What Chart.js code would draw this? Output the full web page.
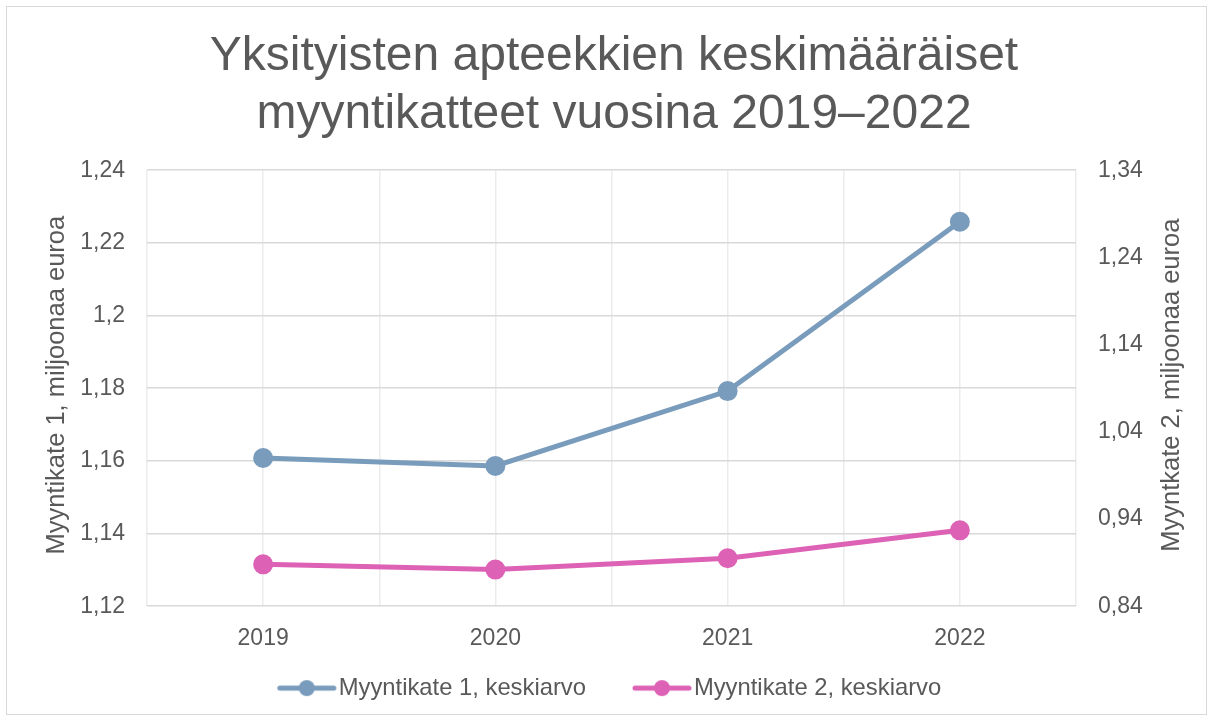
<!DOCTYPE html>
<html lang="fi">
<head>
<meta charset="UTF-8">
<title>Myyntikatteet 2019–2022</title>
<script src="https://cdn.jsdelivr.net/npm/chart.js"></script>
<style>
  html, body { margin: 0; padding: 0; background: #fff; }
  #wrap { position: relative; width: 1213px; height: 720px; }
  #frame { position: absolute; left: 6px; top: 6px; width: 1199px; height: 707px; border: 1px solid #d9d9d9; pointer-events: none; }
</style>
</head>
<body>
<div id="wrap">
  <canvas id="chart" width="1213" height="720"></canvas>
  <div id="frame"></div>
</div>
<script>
// data
const years = [2019, 2020, 2021, 2022];
const margin1 = [1.1608, 1.1586, 1.1792, 1.2258];
const margin2 = [0.888, 0.882, 0.895, 0.927];
const seriesNames = ['Myyntikate 1, keskiarvo', 'Myyntikate 2, keskiarvo'];
const leftAxis = { min: 1.12, max: 1.24, step: 0.02 };
const rightAxis = { min: 0.84, max: 1.34, step: 0.1 };
const titleLines = ['Yksityisten apteekkien keskimääräiset', 'myyntikatteet vuosina 2019–2022'];
const leftTitle = 'Myyntikate 1, miljoonaa euroa';
const rightTitle = 'Myyntkate 2, miljoonaa euroa';

const BLUE = '#7a9cbc';
const PINK = '#dd62b5';
const TEXT = '#595959';
const FONT = '"Liberation Sans", Arial, sans-serif';

// comma decimals like the original
const fmt = v => String(Math.round(v * 100) / 100).replace('.', ',');

// legend marker: line with a dot
function legendIcon(color) {
  const c = document.createElement('canvas');
  c.width = 62; c.height = 18;
  const g = c.getContext('2d');
  g.strokeStyle = color; g.lineWidth = 5; g.lineCap = 'round';
  g.beginPath(); g.moveTo(4, 9); g.lineTo(58, 9); g.stroke();
  g.fillStyle = color;
  g.beginPath(); g.arc(31, 9, 8, 0, Math.PI * 2); g.fill();
  return c;
}
const icons = [legendIcon(BLUE), legendIcon(PINK)];

// axis titles read bottom-to-top on both sides
const axisTitles = {
  id: 'axisTitles',
  afterDraw(chart) {
    const { ctx, chartArea } = chart;
    const y = (chartArea.top + chartArea.bottom) / 2 - 3;
    ctx.save();
    ctx.fillStyle = TEXT;
    ctx.font = '25.5px ' + FONT;
    ctx.textAlign = 'center';
    ctx.textBaseline = 'middle';
    [[57, leftTitle], [1172, rightTitle]].forEach(([x, t]) => {
      ctx.save();
      ctx.translate(x, y);
      ctx.rotate(-Math.PI / 2);
      ctx.fillText(t, 0, 0);
      ctx.restore();
    });
    ctx.restore();
  }
};

const tickFont = { family: FONT, size: 23 };

new Chart(document.getElementById('chart'), {
  type: 'line',
  data: {
    datasets: [
      {
        label: seriesNames[0],
        data: years.map((y, i) => ({ x: y, y: margin1[i] })),
        yAxisID: 'y',
        borderColor: BLUE, backgroundColor: BLUE,
        borderWidth: 5, pointRadius: 7.5, pointHoverRadius: 7.5
      },
      {
        label: seriesNames[1],
        data: years.map((y, i) => ({ x: y, y: margin2[i] })),
        yAxisID: 'y2',
        borderColor: PINK, backgroundColor: PINK,
        borderWidth: 5, pointRadius: 7.5, pointHoverRadius: 7.5
      }
    ]
  },
  options: {
    responsive: false,
    animation: false,
    layout: { padding: { top: 0, bottom: 10, left: 15, right: 0 } },
    scales: {
      x: {
        type: 'linear',
        min: years[0] - 0.5,
        max: years[years.length - 1] + 0.5,
        ticks: {
          stepSize: 0.5,
          color: TEXT,
          font: tickFont,
          // mirrored with negative padding so the labels sit below the axis
          // without being clipped to the (short) scale box
          mirror: true,
          padding: -46,
          maxRotation: 0,
          autoSkip: false,
          callback: v => Number.isInteger(v) ? String(v) : ''
        },
        grid: { color: '#ececec', lineWidth: 1.5, drawTicks: false },
        border: { display: false },
        afterFit: s => { s.height = 14; }
      },
      y: {
        position: 'left',
        min: leftAxis.min, max: leftAxis.max,
        ticks: { stepSize: leftAxis.step, color: TEXT, font: tickFont, padding: 22, callback: fmt },
        grid: { color: '#d9d9d9', lineWidth: 1.5, drawTicks: false },
        border: { display: false },
        afterFit: s => { s.width = 132; }
      },
      y2: {
        position: 'right',
        min: rightAxis.min, max: rightAxis.max,
        ticks: { stepSize: rightAxis.step, color: TEXT, font: tickFont, padding: 22, callback: fmt },
        grid: { drawOnChartArea: false, drawTicks: false },
        border: { display: false },
        afterFit: s => { s.width = 137; }
      }
    },
    plugins: {
      title: {
        display: true,
        text: titleLines,
        color: TEXT,
        font: { family: FONT, size: 48, weight: 'normal', lineHeight: 1.21 },
        padding: { top: 28, bottom: 26 }
      },
      legend: {
        position: 'bottom',
        labels: {
          color: TEXT,
          font: { family: FONT, size: 23.8 },
          usePointStyle: true,
          pointStyleWidth: 40,
          padding: 56,
          generateLabels: chart => {
            const items = Chart.defaults.plugins.legend.labels.generateLabels(chart);
            items.forEach((it, i) => { it.pointStyle = icons[i]; });
            return items;
          }
        }
      },
      tooltip: { enabled: false }
    }
  },
  plugins: [axisTitles]
});
</script>
</body>
</html>
